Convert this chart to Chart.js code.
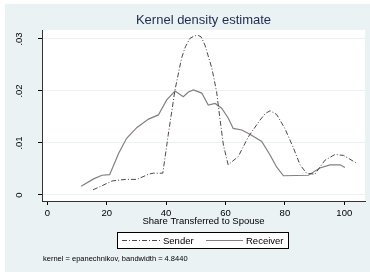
<!DOCTYPE html>
<html lang="en">

<head>
    <meta charset="UTF-8">
    <title>Kernel density estimate</title>
    <style>
        body {
            margin: 0;
            background: #fff;
        }

        #wrap {
            width: 370px;
            height: 275px;
        }
    </style>
    <script src="https://cdn.jsdelivr.net/npm/chart.js"></script>
</head>

<body>
    <div id="wrap">
        <canvas id="kdens" width="370" height="275"></canvas>
    </div>
    <script>
        // Density curves (x = share, y = density)
        const senderX = [15.4, 18.5, 21.8, 26.3, 30.2, 34.1, 35.7, 38.9, 40.7, 43.0, 45.2, 46.5, 48.0, 49.5, 50.8, 51.8, 53.1, 55.4, 57.0, 58.1, 59.3, 60.9, 64.3, 67.7, 71.6, 73.5, 75.0, 77.2, 80.0, 82.9, 85.1, 87.3, 90.1, 93.5, 96.9, 99.8, 104.2];
        const senderY = [0.0010, 0.0018, 0.0027, 0.0030, 0.0030, 0.0040, 0.0042, 0.0042, 0.0115, 0.0202, 0.0263, 0.0285, 0.0301, 0.0306, 0.0307, 0.0304, 0.0288, 0.0244, 0.0199, 0.0148, 0.0096, 0.0058, 0.0074, 0.0112, 0.0144, 0.0157, 0.0162, 0.0155, 0.0128, 0.0090, 0.0058, 0.0042, 0.0040, 0.0067, 0.0078, 0.0076, 0.0061];

        const receiverX = [11.4, 15.6, 18.4, 21.0, 24.0, 26.7, 30.2, 34.1, 37.4, 40.2, 43.0, 45.8, 47.5, 49.2, 52.0, 54.2, 56.5, 58.7, 60.9, 62.6, 65.5, 68.2, 72.2, 75.0, 77.2, 79.5, 87.9, 91.8, 95.2, 98.6, 100.2];
        const receiverY = [0.0017, 0.0031, 0.0038, 0.0039, 0.0080, 0.0109, 0.0130, 0.0146, 0.0154, 0.0183, 0.0200, 0.0189, 0.0198, 0.0202, 0.0196, 0.0173, 0.0176, 0.0167, 0.0148, 0.0128, 0.0125, 0.0117, 0.0103, 0.0077, 0.0054, 0.0037, 0.0038, 0.0052, 0.0058, 0.0058, 0.0053];

        const seriesNames = ['Sender', 'Receiver'];

        // Axis ticks
        const xTickValues = [0, 20, 40, 60, 80, 100];
        const xTickLabels = ['0', '20', '40', '60', '80', '100'];
        const yTickValues = [0, 0.01, 0.02, 0.03];
        const yTickLabels = ['0', '.01', '.02', '.03'];

        const titleText = 'Kernel density estimate';
        const xTitle = 'Share Transferred to Spouse';
        const noteText = 'kernel = epanechnikov, bandwidth = 4.8440';

        const FONT = '"Liberation Sans", Arial, sans-serif';
        Chart.defaults.font.family = FONT;

        function toPoints(xs, ys) {
            return xs.map((x, i) => ({ x: x, y: ys[i] }));
        }

        const senderColor = '#4a4a4a';
        const receiverColor = '#808080';
        const senderDash = [5, 2, 1, 2];

        // fond gris + zone du graphique en blanc
        const backdrop = {
            id: 'backdrop',
            beforeDraw(chart) {
                const c = chart.ctx;
                const a = chart.chartArea;
                c.save();
                c.fillStyle = '#ffffff';
                c.fillRect(0, 0, chart.width, chart.height);
                c.fillStyle = '#eaf2f3';
                c.fillRect(5, 4, chart.width - 5, 268);
                c.fillStyle = '#ffffff';
                c.fillRect(a.left, a.top, a.right - a.left, a.bottom - a.top);
                c.restore();
            }
        };

        // legende encadree et note
        const boxLegend = {
            id: 'boxLegend',
            afterDraw(chart) {
                const c = chart.ctx;
                c.save();
                c.fillStyle = '#ffffff';
                c.fillRect(117.5, 232.5, 171, 16);
                c.strokeStyle = '#000';
                c.lineWidth = 1;
                c.strokeRect(117.5, 232.5, 171, 16);

                const ly = 240.5;
                c.lineWidth = 1;
                c.strokeStyle = senderColor;
                c.setLineDash(senderDash);
                c.beginPath();
                c.moveTo(122, ly);
                c.lineTo(160, ly);
                c.stroke();
                c.setLineDash([]);
                c.strokeStyle = receiverColor;
                c.beginPath();
                c.moveTo(206, ly);
                c.lineTo(243, ly);
                c.stroke();

                c.fillStyle = '#000';
                c.font = '9.5px ' + FONT;
                c.textBaseline = 'middle';
                c.textAlign = 'left';
                c.fillText(chart.data.datasets[0].label, 163, ly + 0.5);
                c.fillText(chart.data.datasets[1].label, 246, ly + 0.5);

                c.font = '7.5px ' + FONT;
                c.fillText(noteText, 43, 258.5);
                c.restore();
            }
        };

        const chart = new Chart(document.getElementById('kdens'), {
            type: 'line',
            data: {
                datasets: [{
                    label: seriesNames[0],
                    data: toPoints(senderX, senderY),
                    borderColor: senderColor,
                    borderWidth: 1,
                    borderDash: senderDash,
                    pointRadius: 0,
                    tension: 0,
                    fill: false
                }, {
                    label: seriesNames[1],
                    data: toPoints(receiverX, receiverY),
                    borderColor: receiverColor,
                    borderWidth: 1.2,
                    pointRadius: 0,
                    tension: 0,
                    fill: false
                }]
            },
            options: {
                responsive: false,
                animation: false,
                devicePixelRatio: 1,
                layout: {
                    padding: { top: 5, left: 0, right: 5, bottom: 46 }
                },
                plugins: {
                    legend: { display: false },
                    tooltip: { enabled: false },
                    title: {
                        display: true,
                        text: titleText,
                        fullSize: false,
                        color: '#1e2b4f',
                        font: { size: 13, weight: 'normal', family: FONT },
                        padding: { top: 8, bottom: 1.4 }
                    }
                },
                scales: {
                    x: {
                        type: 'linear',
                        min: -1.78,
                        max: 106.97,
                        afterBuildTicks(s) {
                            s.ticks = xTickValues.map(v => ({ value: v }));
                        },
                        afterFit(s) {
                            s.height = 28;
                        },
                        ticks: {
                            color: '#000',
                            padding: 3,
                            maxRotation: 0,
                            font: { size: 9.5 },
                            callback: (v, i) => xTickLabels[i]
                        },
                        grid: {
                            drawOnChartArea: false,
                            drawTicks: true,
                            tickLength: 4,
                            tickColor: '#000'
                        },
                        border: { display: true, color: '#333', width: 1 },
                        title: {
                            display: true,
                            text: xTitle,
                            color: '#000',
                            font: { size: 9.5 },
                            padding: { top: 0, bottom: 1.5 }
                        }
                    },
                    y: {
                        type: 'linear',
                        min: -0.001154,
                        max: 0.03173,
                        afterBuildTicks(s) {
                            s.ticks = yTickValues.map(v => ({ value: v }));
                        },
                        afterFit(s) {
                            s.width = 42;
                        },
                        ticks: {
                            color: '#000',
                            padding: 12,
                            minRotation: 90,
                            maxRotation: 90,
                            crossAlign: 'center',
                            font: { size: 9.5 },
                            callback: (v, i) => yTickLabels[i]
                        },
                        grid: {
                            color: '#eaf2f3',
                            lineWidth: 1,
                            drawTicks: true,
                            tickLength: 4,
                            tickColor: '#000'
                        },
                        border: { display: true, color: '#333', width: 1 }
                    }
                }
            },
            plugins: [backdrop, boxLegend]
        });
    </script>
</body>

</html>
